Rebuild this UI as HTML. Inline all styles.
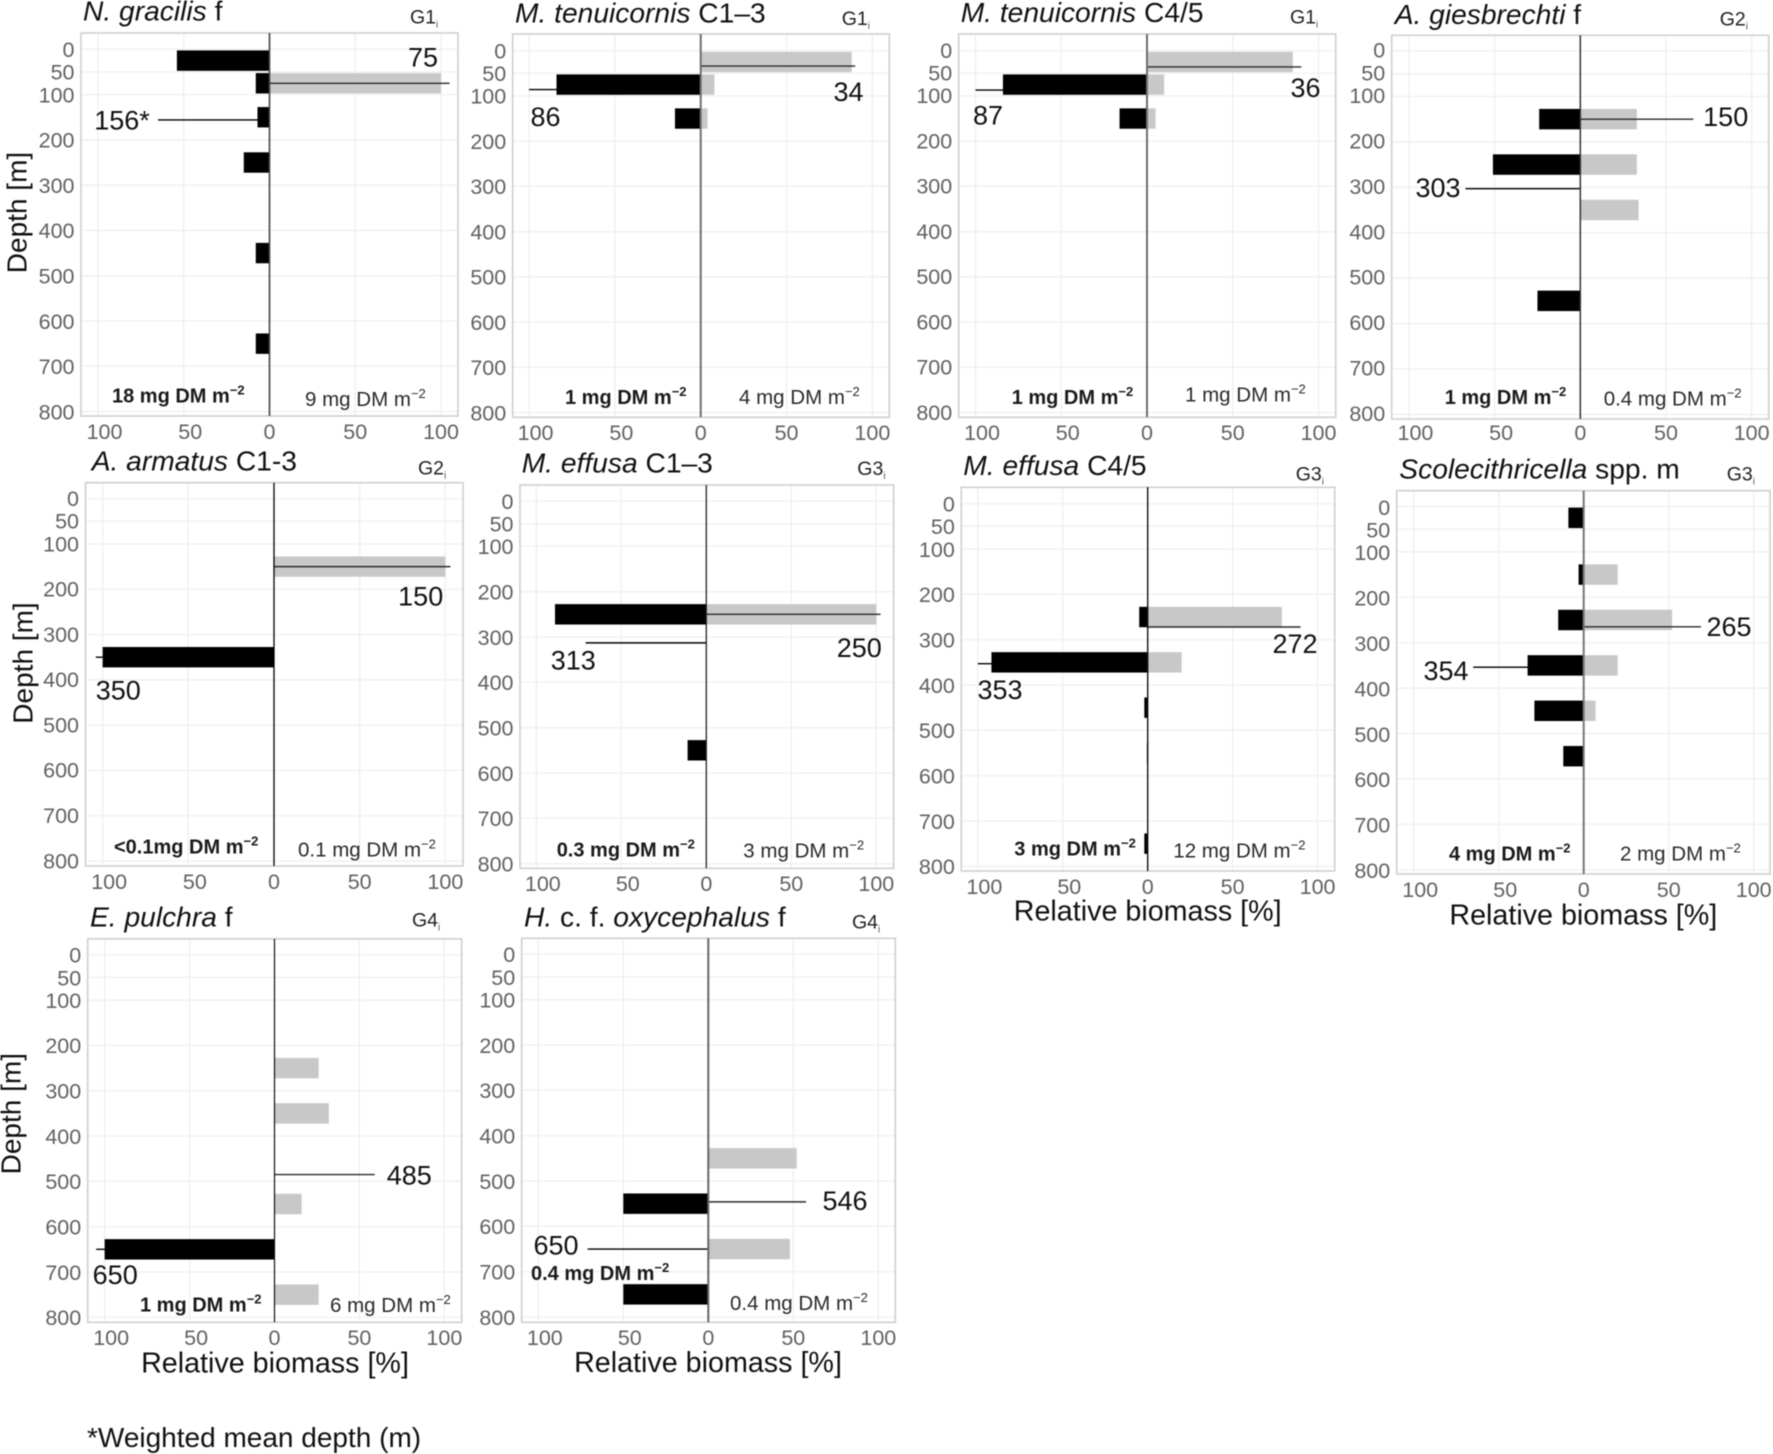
<!DOCTYPE html>
<html lang="en">
<head>
<meta charset="utf-8">
<title>Relative biomass by depth</title>
<style>
html,body{margin:0;padding:0;background:#fff;}
svg{display:block;filter:blur(0.45px);font-family:"Liberation Sans",Arial,sans-serif;}
.ttl{font-size:28.2px;fill:#111;}
.ttl .it{font-style:italic;}
.grp{font-size:19.5px;fill:#222;}
.grp .sub{font-size:10px;fill:#555;}
.an-b{font-size:20px;font-weight:bold;fill:#1a1a1a;}
.an-r{font-size:20.5px;fill:#2a2a2a;}
.sup{font-size:13px;}
.ax{font-size:28.7px;fill:#111;}
.ay{font-size:28px;fill:#111;}
.tick{font-size:21.5px;fill:#616161;}
.val{font-size:27px;fill:#111;}
</style>
</head>
<body>
<svg id="figure" xmlns="http://www.w3.org/2000/svg" width="1773" height="1454" viewBox="0 0 1773 1454">
<rect x="0" y="0" width="1773" height="1454" fill="#fff"/>

<g>
  <g id="marks-1"></g>
  <text class="ttl" x="83" y="20.7"><tspan class="it">N. gracilis</tspan> f</text>
  <text class="grp" x="410" y="23.3">G1<tspan class="sub" dy="4">i</tspan></text>
  <text class="an-b" x="112" y="402.7">18 mg DM m<tspan class="sup" dy="-8">−2</tspan></text>
  <text class="an-r" x="305" y="406">9 mg DM m<tspan class="sup" dy="-8">−2</tspan></text>
  <text class="ay" text-anchor="middle" transform="translate(26.7 212.5) rotate(-90)">Depth [m]</text>
</g>

<g>
  <g id="marks-2"></g>
  <text class="ttl" x="515" y="22.3"><tspan class="it">M. tenuicornis</tspan> C1–3</text>
  <text class="grp" x="841.7" y="25">G1<tspan class="sub" dy="4">i</tspan></text>
  <text class="an-b" x="565" y="404">1 mg DM m<tspan class="sup" dy="-8">−2</tspan></text>
  <text class="an-r" x="739" y="404">4 mg DM m<tspan class="sup" dy="-8">−2</tspan></text>
</g>

<g>
  <g id="marks-3"></g>
  <text class="ttl" x="960.7" y="22"><tspan class="it">M. tenuicornis</tspan> C4/5</text>
  <text class="grp" x="1290" y="23.3">G1<tspan class="sub" dy="4">i</tspan></text>
  <text class="an-b" x="1011.7" y="404">1 mg DM m<tspan class="sup" dy="-8">−2</tspan></text>
  <text class="an-r" x="1185" y="401.7">1 mg DM m<tspan class="sup" dy="-8">−2</tspan></text>
</g>

<g>
  <g id="marks-4"></g>
  <text class="ttl" x="1394.7" y="24"><tspan class="it">A. giesbrechti</tspan> f</text>
  <text class="grp" x="1719.7" y="25.7">G2<tspan class="sub" dy="4">i</tspan></text>
  <text class="an-b" x="1444.7" y="404">1 mg DM m<tspan class="sup" dy="-8">−2</tspan></text>
  <text class="an-r" x="1603.7" y="405.7">0.4 mg DM m<tspan class="sup" dy="-8">−2</tspan></text>
</g>

<g>
  <g id="marks-5"></g>
  <text class="ttl" x="91.7" y="470.7"><tspan class="it">A. armatus</tspan> C1-3</text>
  <text class="grp" x="418" y="474.3">G2<tspan class="sub" dy="4">i</tspan></text>
  <text class="an-b" x="114" y="853.3">&lt;0.1mg DM m<tspan class="sup" dy="-8">−2</tspan></text>
  <text class="an-r" x="298" y="856.7">0.1 mg DM m<tspan class="sup" dy="-8">−2</tspan></text>
  <text class="ay" text-anchor="middle" transform="translate(32.3 663) rotate(-90)">Depth [m]</text>
</g>

<g>
  <g id="marks-6"></g>
  <text class="ttl" x="521.7" y="472.7"><tspan class="it">M. effusa</tspan> C1–3</text>
  <text class="grp" x="857.3" y="475">G3<tspan class="sub" dy="4">i</tspan></text>
  <text class="an-b" x="556.7" y="856.7">0.3 mg DM m<tspan class="sup" dy="-8">−2</tspan></text>
  <text class="an-r" x="743.3" y="857.7">3 mg DM m<tspan class="sup" dy="-8">−2</tspan></text>
</g>

<g>
  <g id="marks-7"></g>
  <text class="ttl" x="963.3" y="475"><tspan class="it">M. effusa</tspan> C4/5</text>
  <text class="grp" x="1295.7" y="480.7">G3<tspan class="sub" dy="4">i</tspan></text>
  <text class="an-b" x="1014.3" y="855.7">3 mg DM m<tspan class="sup" dy="-8">−2</tspan></text>
  <text class="an-r" x="1173.3" y="857.7">12 mg DM m<tspan class="sup" dy="-8">−2</tspan></text>
  <text class="ax" text-anchor="middle" x="1147.7" y="920.5">Relative biomass [%]</text>
</g>

<g>
  <g id="marks-8"></g>
  <text class="ttl" x="1399.3" y="478.3"><tspan class="it">Scolecithricella</tspan> spp. m</text>
  <text class="grp" x="1726.7" y="480.7">G3<tspan class="sub" dy="4">i</tspan></text>
  <text class="an-b" x="1449" y="860.7">4 mg DM m<tspan class="sup" dy="-8">−2</tspan></text>
  <text class="an-r" x="1620" y="860.7">2 mg DM m<tspan class="sup" dy="-8">−2</tspan></text>
  <text class="ax" text-anchor="middle" x="1583.3" y="924.5">Relative biomass [%]</text>
</g>

<g>
  <g id="marks-9"></g>
  <text class="ttl" x="90" y="926.5"><tspan class="it">E. pulchra</tspan> f</text>
  <text class="grp" x="412" y="926.5">G4<tspan class="sub" dy="4">i</tspan></text>
  <text class="an-b" x="140" y="1311.7">1 mg DM m<tspan class="sup" dy="-8">−2</tspan></text>
  <text class="an-r" x="330" y="1312">6 mg DM m<tspan class="sup" dy="-8">−2</tspan></text>
  <text class="ax" text-anchor="middle" x="275" y="1372.5">Relative biomass [%]</text>
  <text class="ay" text-anchor="middle" transform="translate(20.7 1113.7) rotate(-90)">Depth [m]</text>
</g>

<g>
  <g id="marks-10"></g>
  <text class="ttl" x="524" y="926.7"><tspan class="it">H.</tspan> c. f. <tspan class="it">oxycephalus</tspan> f</text>
  <text class="grp" x="852" y="928.3">G4<tspan class="sub" dy="4">i</tspan></text>
  <text class="an-b" x="531" y="1280">0.4 mg DM m<tspan class="sup" dy="-8">−2</tspan></text>
  <text class="an-r" x="730" y="1310">0.4 mg DM m<tspan class="sup" dy="-8">−2</tspan></text>
  <text class="ax" text-anchor="middle" x="708" y="1372.2">Relative biomass [%]</text>
</g>

<text x="87" y="1447" font-size="28" fill="#111">*Weighted mean depth (m)</text>
</svg>

<script>
// Shared categories and tick labels
const depthBins = [25, 75, 150, 250, 350, 450, 550, 650, 750];
const depthTicks = [0, 50, 100, 200, 300, 400, 500, 600, 700, 800];
const percentTicks = [-100, -50, 0, 50, 100];

// Series values, one pair per panel: relative biomass [%] per depth bin
const gracilisBlack = [54, 8, 7, 15, 0, 8, 0, 8, 0];
const gracilisGray = [0, 100, 0, 0, 0, 0, 0, 0, 0];
const tenuiC13Black = [0, 84, 15, 0, 0, 0, 0, 0, 0];
const tenuiC13Gray = [88, 8, 4, 0, 0, 0, 0, 0, 0];
const tenuiC45Black = [0, 84, 16, 0, 0, 0, 0, 0, 0];
const tenuiC45Gray = [85, 10, 5, 0, 0, 0, 0, 0, 0];
const giesbrechtiBlack = [0, 0, 24, 51, 0, 0, 25, 0, 0];
const giesbrechtiGray = [0, 0, 33, 33, 34, 0, 0, 0, 0];
const armatusBlack = [0, 0, 0, 0, 100, 0, 0, 0, 0];
const armatusGray = [0, 0, 100, 0, 0, 0, 0, 0, 0];
const effusaC13Black = [0, 0, 0, 89, 0, 0, 11, 0, 0];
const effusaC13Gray = [0, 0, 0, 100, 0, 0, 0, 0, 0];
const effusaC45Black = [0, 0, 0, 5, 92, 2, 0.5, 0, 2];
const effusaC45Gray = [0, 0, 0, 79, 20, 0, 0.5, 0, 0];
const scoleBlack = [9, 0, 3, 15, 33, 29, 12, 0, 0];
const scoleGray = [0, 0, 20, 52, 20, 7, 0, 0, 0];
const pulchraBlack = [0, 0, 0, 0, 0, 0, 0, 100, 0];
const pulchraGray = [0, 0, 0, 26, 32, 0, 16, 0, 26];
const oxyBlack = [0, 0, 0, 0, 0, 0, 50, 0, 50];
const oxyGray = [0, 0, 0, 0, 0, 52, 0, 48, 0];

// Weighted mean depth [m]: [black series, gray series]
const gracilisMean = [156, 75];
const tenuiC13Mean = [86, 34];
const tenuiC45Mean = [87, 36];
const giesbrechtiMean = [303, 150];
const armatusMean = [350, 150];
const effusaC13Mean = [313, 250];
const effusaC45Mean = [353, 272];
const scoleMean = [354, 265];
const pulchraMean = [650, 485];
const oxyMean = [650, 546];

// How far each mean-depth leader runs along the percent axis: [left, right]
const gracilisReach = [65, 105];
const tenuiC13Reach = [100, 90];
const tenuiC45Reach = [100, 90];
const giesbrechtiReach = [67, 66];
const armatusReach = [104, 103];
const effusaC13Reach = [71, 102.5];
const effusaC45Reach = [100, 90];
const scoleReach = [65, 69];
const pulchraReach = [105, 59];
const oxyReach = [71, 57.5];

// Panel layout (pixels) and series wiring
const panels = [
  {id:1, L:81, R:458, T:33, B:416, xL:98, x0:269.5, xR:441, y0:49.3, y700:366.3, zc:'#444', zw:1.6, xDy:0, yDy:0,
   black:gracilisBlack, gray:gracilisGray, mean:gracilisMean, reach:gracilisReach, star:'*',
   lab:[[122,120],[423,57]]},
  {id:2, L:512.7, R:889.3, T:34, B:417.3, xL:529.7, x0:700.7, xR:873, y0:50.7, y700:367.3, zc:'#6e6e6e', zw:2, xDy:0, yDy:0,
   black:tenuiC13Black, gray:tenuiC13Gray, mean:tenuiC13Mean, reach:tenuiC13Reach, star:'',
   lab:[[545.5,116.7],[848.5,91.7]]},
  {id:3, L:958.7, R:1335.7, T:34, B:417.3, xL:975.7, x0:1147, xR:1318.7, y0:50.7, y700:367.3, zc:'#6e6e6e', zw:2, xDy:0, yDy:-0.5,
   black:tenuiC45Black, gray:tenuiC45Gray, mean:tenuiC45Mean, reach:tenuiC45Reach, star:'',
   lab:[[988,115],[1305.5,87.3]]},
  {id:4, L:1391.7, R:1768.7, T:35.3, B:419, xL:1409, x0:1580.3, xR:1751.7, y0:51, y700:369, zc:'#333', zw:1.5, xDy:-2, yDy:-1.2,
   black:giesbrechtiBlack, gray:giesbrechtiGray, mean:giesbrechtiMean, reach:giesbrechtiReach, star:'',
   lab:[[1438,187.7],[1725.7,116.7]]},
  {id:5, L:85.5, R:463, T:482.7, B:866, xL:103, x0:274, xR:445.7, y0:498.7, y700:815.7, zc:'#000', zw:1.3, xDy:0, yDy:-0.5,
   black:armatusBlack, gray:armatusGray, mean:armatusMean, reach:armatusReach, star:'',
   lab:[[118.3,690],[420.7,596]]},
  {id:6, L:520, R:893.7, T:485, B:868.3, xL:536.7, x0:706.3, xR:876.7, y0:501, y700:818.3, zc:'#222', zw:1.3, xDy:0, yDy:0,
   black:effusaC13Black, gray:effusaC13Gray, mean:effusaC13Mean, reach:effusaC13Reach, star:'',
   lab:[[573.3,660],[859.3,647.7]]},
  {id:7, L:961.3, R:1334.7, T:487.3, B:871, xL:978, x0:1147.7, xR:1317.7, y0:503.7, y700:821, zc:'#111', zw:1.4, xDy:0, yDy:0,
   black:effusaC45Black, gray:effusaC45Gray, mean:effusaC45Mean, reach:effusaC45Reach, star:'',
   lab:[[1000,689.3],[1295,643.3]]},
  {id:8, L:1396.7, R:1770, T:490.7, B:874, xL:1413.7, x0:1583.7, xR:1753.7, y0:506.5, y700:824.3, zc:'#777', zw:2, xDy:0, yDy:0.5,
   black:scoleBlack, gray:scoleGray, mean:scoleMean, reach:scoleReach, star:'',
   lab:[[1446,670.7],[1729,626.7]]},
  {id:9, L:87.7, R:461.7, T:938.9, B:1322.3, xL:105, x0:274.5, xR:444.7, y0:954.8, y700:1272, zc:'#111', zw:1.2, xDy:0, yDy:0,
   black:pulchraBlack, gray:pulchraGray, mean:pulchraMean, reach:pulchraReach, star:'',
   lab:[[115.2,1274.6],[409.3,1175]]},
  {id:10, L:521.7, R:895.3, T:938.3, B:1322.3, xL:538.3, x0:708.3, xR:878.3, y0:954.3, y700:1271.7, zc:'#666', zw:2, xDy:0, yDy:0,
   black:oxyBlack, gray:oxyGray, mean:oxyMean, reach:oxyReach, star:'',
   lab:[[556,1245],[845,1200.7]]}
];

const NS = 'http://www.w3.org/2000/svg';
const BIN_HALF = 22.5; // half bar thickness in metres

function mk(parent, tag, attrs) {
  const n = document.createElementNS(NS, tag);
  for (const k in attrs) n.setAttribute(k, attrs[k]);
  parent.appendChild(n);
  return n;
}

panels.forEach(function (p) {
  const g = document.getElementById('marks-' + p.id);
  const kx = (p.xR - p.xL) / 200;
  const ky = (p.y700 - p.y0) / 700;
  const xScale = function (v) { return p.x0 + v * kx; };
  const yScale = function (d) { return p.y0 + d * ky; };
  let el;

  // Plot background
  el = mk(g, 'rect', {x:p.L, y:p.T, width:p.R - p.L, height:p.B - p.T, fill:'#fff'});
  
  

  // Horizontal gridlines and y tick labels
  depthTicks.forEach(function (d) {
    const y = yScale(d);
    const line = mk(g, 'line', {x1:p.L, x2:p.R, y1:y, y2:y, stroke:'#eeeeee', 'stroke-width':1.2});
    
    
    const t = mk(g, 'text', {x:p.L - 6.5, y:y + 7.8 + p.yDy, 'text-anchor':'end', 'class':'tick'});
    
    
    t.textContent = d;
  });

  // Vertical gridlines and x tick labels
  percentTicks.forEach(function (v) {
    const x = xScale(v);
    if (v !== 0) {
      const line = mk(g, 'line', {x1:x, x2:x, y1:p.T, y2:p.B, stroke:'#eeeeee', 'stroke-width':1.2});
      
      
    }
    const t = mk(g, 'text', {x:x + (v < 0 ? 6.5 : 0), y:p.B + 22.8 + p.xDy, 'text-anchor':'middle', 'class':'tick'});
    
    
    t.textContent = Math.abs(v);
  });

  // Bars
  depthBins.forEach(function (d, i) {
    const top = yScale(d - BIN_HALF);
    const h = yScale(d + BIN_HALF) - top;
    if (p.gray[i] > 0) {
      const bar = mk(g, 'rect', {x:xScale(0), y:top, width:xScale(p.gray[i]) - xScale(0), height:h, fill:'#c8c8c8'});
      
      
    }
    if (p.black[i] > 0) {
      const bar = mk(g, 'rect', {x:xScale(-p.black[i]), y:top, width:xScale(0) - xScale(-p.black[i]), height:h, fill:'#000'});
      
      
    }
  });

  // Panel border
  el = mk(g, 'rect', {x:p.L, y:p.T, width:p.R - p.L, height:p.B - p.T, fill:'none', stroke:'#cfcfcf', 'stroke-width':1.6});
  
  

  // Weighted mean depth leaders and their printed values
  [0, 1].forEach(function (side) {
    const sign = side === 0 ? -1 : 1;
    const y = yScale(p.mean[side]);
    const leader = mk(g, 'line', {x1:xScale(0), x2:xScale(sign * p.reach[side]), y1:y, y2:y, stroke:side === 0 ? '#000' : '#2a2a2a', 'stroke-width':1.4});
    
    
    const t = mk(g, 'text', {x:p.lab[side][0], y:p.lab[side][1] + 9.5, 'text-anchor':'middle', 'class':'val'});
    
    
    t.textContent = p.mean[side] + (side === 0 ? p.star : '');
  });

  // Zero line
  el = mk(g, 'line', {x1:xScale(0), x2:xScale(0), y1:p.T, y2:p.B, stroke:p.zc, 'stroke-width':p.zw});
  
  
});
</script>
</body>
</html>
